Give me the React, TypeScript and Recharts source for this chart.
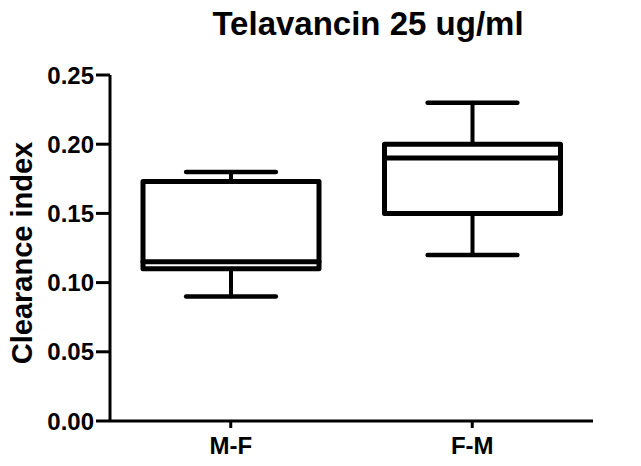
import { ComposedChart, Bar, XAxis, YAxis } from "recharts";

const categories = ["M-F", "F-M"];
const mins = [0.09, 0.12];
const q1s = [0.11, 0.15];
const medians = [0.115, 0.19];
const q3s = [0.173, 0.2];
const maxs = [0.18, 0.23];
const yTicks = [0, 0.05, 0.1, 0.15, 0.2, 0.25];

const data = categories.map((name, i) => ({
  name,
  range: [mins[i], maxs[i]],
  min: mins[i],
  q1: q1s[i],
  median: medians[i],
  q3: q3s[i],
  max: maxs[i],
}));

const FONT = "'Liberation Sans', Arial, sans-serif";

function BoxShape(props: any) {
  const { x, y, width, height, payload } = props;
  if (x == null || !payload) return null;
  const { min, q1, median, q3, max } = payload;
  // map value -> pixel using the bar's own [min, max] extent
  const toPx = (v: number) => y + (height * (max - v)) / (max - min);
  const cx = x + width / 2;
  const capHalf = width * 0.255;
  return (
    <g stroke="#000" fill="none" strokeLinecap="round" strokeLinejoin="round">
      <line x1={cx} x2={cx} y1={toPx(max)} y2={toPx(q3)} strokeWidth={4} />
      <line x1={cx} x2={cx} y1={toPx(q1)} y2={toPx(min)} strokeWidth={4} />
      <line x1={cx - capHalf} x2={cx + capHalf} y1={toPx(max)} y2={toPx(max)} strokeWidth={4.5} />
      <line x1={cx - capHalf} x2={cx + capHalf} y1={toPx(min)} y2={toPx(min)} strokeWidth={4.5} />
      <rect x={x} y={toPx(q3)} width={width} height={toPx(q1) - toPx(q3)} strokeWidth={5} />
      <line x1={x} x2={x + width} y1={toPx(median)} y2={toPx(median)} strokeWidth={5} />
    </g>
  );
}

export default function App() {
  return (
    <div style={{ position: "absolute", left: 0, top: 0, width: 641, height: 466, background: "#fff" }}>
      <ComposedChart
        width={641}
        height={466}
        data={data}
        margin={{ top: 75, right: 48, bottom: 0, left: 0 }}
      >
        <XAxis
          dataKey="name"
          type="category"
          axisLine={{ stroke: "#000", strokeWidth: 3 }}
          tickLine={{ stroke: "#000", strokeWidth: 3 }}
          tickSize={7}
          tickMargin={9}
          tick={{ fill: "#000", fontSize: 24, fontWeight: "bold", fontFamily: FONT }}
          height={45}
        />
        <YAxis
          type="number"
          domain={[0, 0.25]}
          ticks={yTicks}
          tickFormatter={(v: number) => v.toFixed(2)}
          axisLine={{ stroke: "#000", strokeWidth: 3 }}
          tickLine={{ stroke: "#000", strokeWidth: 3 }}
          tickSize={14}
          tickMargin={2}
          width={110}
          tick={{ fill: "#000", fontSize: 24, fontWeight: "bold", fontFamily: FONT }}
          interval={0}
        />
        <Bar dataKey="range" barSize={176} shape={<BoxShape />} isAnimationActive={false} />
      </ComposedChart>
      <svg
        width={641}
        height={466}
        style={{ position: "absolute", left: 0, top: 0, pointerEvents: "none" }}
      >
        <text
          x={368}
          y={35}
          textAnchor="middle"
          fontFamily={FONT}
          fontWeight="bold"
          fontSize={33}
          fill="#000"
        >
          Telavancin 25 ug/ml
        </text>
        <text
          x={32}
          y={253}
          textAnchor="middle"
          transform="rotate(-90 32 253)"
          fontFamily={FONT}
          fontWeight="bold"
          fontSize={29}
          fill="#000"
        >
          Clearance index
        </text>
      </svg>
    </div>
  );
}
